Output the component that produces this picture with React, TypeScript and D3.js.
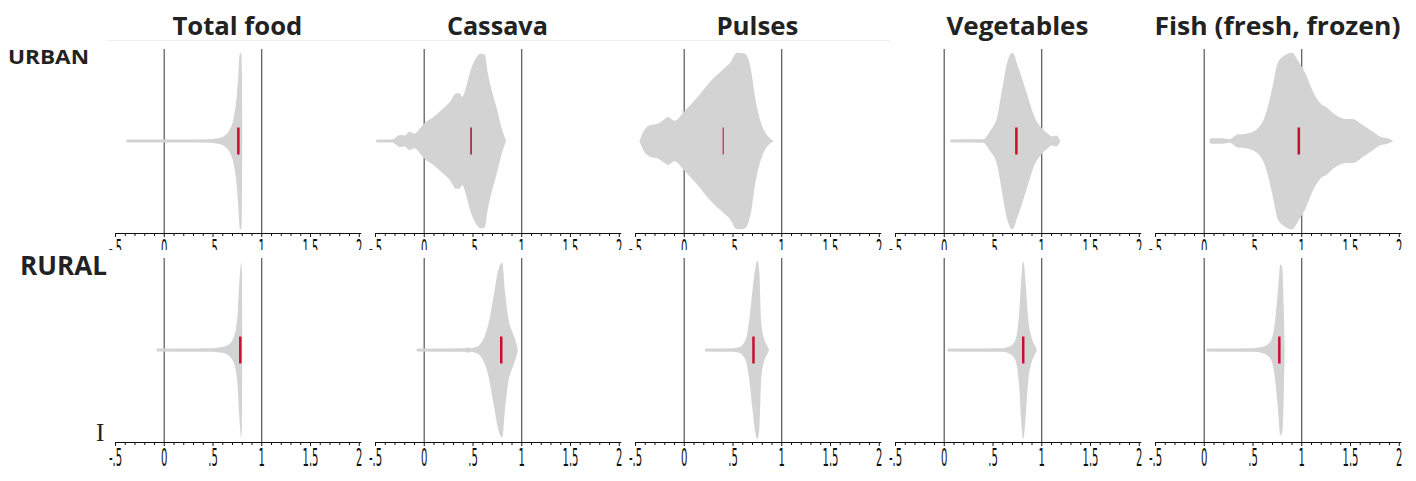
import React from "react";
import * as d3 from "d3";

type Pt = [number, number]; // [value, relative half-width]

const foods = ["Total food", "Cassava", "Pulses", "Vegetables", "Fish (fresh, frozen)"];
const titleWidths = [130, 101, 82, 142, 246];
const areas = ["URBAN", "RURAL"];
const tickLabels = ["-.5", "0", ".5", "1", "1.5", "2"];
const tickValues = [-0.5, 0, 0.5, 1, 1.5, 2];

// density outlines
const urbanTotal: Pt[] = [[-0.39, 0], [-0.38, 0.016], [0.2, 0.016], [0.45, 0.02], [0.55, 0.03], [0.62, 0.06], [0.67, 0.12], [0.71, 0.24], [0.74, 0.45], [0.76, 0.72], [0.775, 0.95], [0.79, 0.96], [0.797, 0.7], [0.8, 0]];
const urbanCassava: Pt[] = [[-0.5, 0], [-0.48, 0.016], [-0.33, 0.016], [-0.29, 0.04], [-0.25, 0.065], [-0.2, 0.06], [-0.15, 0.1], [-0.1, 0.08], [-0.04, 0.14], [0, 0.19], [0.08, 0.25], [0.18, 0.34], [0.26, 0.42], [0.33, 0.52], [0.36, 0.52], [0.39, 0.48], [0.43, 0.59], [0.47, 0.75], [0.52, 0.88], [0.58, 0.95], [0.62, 0.94], [0.65, 0.75], [0.7, 0.52], [0.74, 0.37], [0.8, 0.12], [0.84, 0]];
const urbanPulses: Pt[] = [[-0.46, 0], [-0.42, 0.1], [-0.35, 0.17], [-0.27, 0.19], [-0.2, 0.24], [-0.17, 0.26], [-0.1, 0.22], [0, 0.32], [0.13, 0.47], [0.27, 0.65], [0.4, 0.78], [0.47, 0.85], [0.54, 0.96], [0.62, 0.95], [0.68, 0.8], [0.73, 0.45], [0.8, 0.16], [0.86, 0.05], [0.92, 0]];
const urbanVeg: Pt[] = [[0.06, 0], [0.07, 0.016], [0.4, 0.018], [0.44, 0.06], [0.47, 0.11], [0.54, 0.25], [0.59, 0.54], [0.64, 0.83], [0.7, 0.96], [0.75, 0.83], [0.84, 0.54], [0.93, 0.25], [1.0, 0.14], [1.05, 0.09], [1.11, 0.05], [1.15, 0.06], [1.19, 0]];
const urbanFish: Pt[] = [[0.05, 0], [0.07, 0.03], [0.19, 0.03], [0.26, 0.02], [0.34, 0.07], [0.43, 0.08], [0.53, 0.12], [0.63, 0.29], [0.7, 0.59], [0.75, 0.84], [0.8, 0.91], [0.9, 0.96], [0.97, 0.86], [1.04, 0.73], [1.11, 0.55], [1.2, 0.4], [1.25, 0.37], [1.35, 0.28], [1.46, 0.24], [1.52, 0.24], [1.63, 0.17], [1.73, 0.1], [1.8, 0.05], [1.88, 0.03], [1.94, 0]];

const ruralTotal: Pt[] = [[-0.08, 0], [-0.07, 0.016], [0.5, 0.02], [0.55, 0.025], [0.64, 0.045], [0.71, 0.13], [0.75, 0.36], [0.77, 0.73], [0.79, 0.95], [0.797, 0.8], [0.8, 0]];
const ruralCassava: Pt[] = [[-0.08, 0], [-0.07, 0.016], [0.42, 0.02], [0.45, 0.03], [0.48, 0.02], [0.52, 0.03], [0.54, 0.035], [0.57, 0.06], [0.62, 0.15], [0.66, 0.29], [0.71, 0.58], [0.76, 0.87], [0.8, 0.95], [0.83, 0.62], [0.86, 0.36], [0.91, 0.18], [0.95, 0.05], [0.96, 0]];
const ruralPulses: Pt[] = [[0.21, 0], [0.22, 0.016], [0.5, 0.02], [0.56, 0.03], [0.6, 0.06], [0.64, 0.15], [0.67, 0.35], [0.7, 0.65], [0.73, 0.9], [0.75, 0.97], [0.77, 0.85], [0.79, 0.3], [0.82, 0.12], [0.85, 0.05], [0.87, 0]];
const ruralVeg: Pt[] = [[0.03, 0], [0.04, 0.016], [0.6, 0.02], [0.66, 0.035], [0.7, 0.06], [0.74, 0.15], [0.77, 0.42], [0.79, 0.78], [0.81, 0.97], [0.83, 0.8], [0.86, 0.35], [0.9, 0.12], [0.93, 0.05], [0.95, 0]];
const ruralFish: Pt[] = [[0.02, 0], [0.03, 0.016], [0.5, 0.02], [0.6, 0.035], [0.66, 0.07], [0.7, 0.15], [0.73, 0.35], [0.76, 0.7], [0.78, 0.93], [0.8, 0.9], [0.815, 0.5], [0.825, 0]];

const urbanShapes = [urbanTotal, urbanCassava, urbanPulses, urbanVeg, urbanFish];
const ruralShapes = [ruralTotal, ruralCassava, ruralPulses, ruralVeg, ruralFish];
const urbanMeans = [0.76, 0.48, 0.4, 0.74, 0.97];
const ruralMeans = [0.78, 0.79, 0.71, 0.81, 0.77];

const shapes = [urbanShapes, ruralShapes];
const means = [urbanMeans, ruralMeans];
const meanStyle = [
  [["#c8102e", 2.5], ["#8b1a2b", 1.5], ["#c04a6a", 1.5], ["#c8102e", 2.5], ["#c8102e", 2.5]],
  [["#c8102e", 2.5], ["#c8102e", 2.5], ["#c8102e", 2.5], ["#c8102e", 2.5], ["#c8102e", 2.5]],
];

const W = 1416, H = 481;
const panelW = 243.75;
const plotH = 184;
const ticks = d3.range(-5, 21).map((d) => d / 10);

export default function App() {
  // panel placement
  const colLeft = d3.scaleLinear().domain([0, 1]).range([115.5, 375.5]);
  const rowTop = d3.scaleLinear().domain([0, 1]).range([49, 258]);
  const hw = d3.scaleLinear().domain([0, 1]).range([0, 92]);

  return (
    <svg width={W} height={H} style={{ position: "absolute", left: 0, top: 0 }}
      fontFamily="'Open Sans', sans-serif">
      <defs>
        <clipPath id="topLabels">
          <rect x={0} y={0} width={W} height={250} />
        </clipPath>
      </defs>
      <rect width={W} height={H} fill="#fff" />
      <line x1={107} x2={890} y1={40.5} y2={40.5} stroke="#f0f0f0" />
      {foods.map((f, i) => (
        <text key={f} x={colLeft(i) + panelW / 2} y={35} textAnchor="middle" fontWeight="bold"
          fontSize={25} fill="#222" textLength={titleWidths[i]} lengthAdjust="spacingAndGlyphs">{f}</text>
      ))}
      <text x={8} y={64} fontWeight="bold" fontSize={19} fill="#222" textLength={81} lengthAdjust="spacingAndGlyphs">{areas[0]}</text>
      <text x={20} y={275} fontWeight="bold" fontSize={27} fill="#222" textLength={87} lengthAdjust="spacingAndGlyphs">{areas[1]}</text>
      <text x={96} y={441} fontFamily="'Liberation Serif', serif" fontSize={25} fill="#222">I</text>

      {areas.map((a, r) => {
        const top = rowTop(r);
        const axisY = top + plotH;
        const cy = top + plotH / 2;
        return foods.map((f, i) => {
          const left = colLeft(i);
          const x = d3.scaleLinear().domain([-0.5, 2]).range([left, left + panelW]);
          const area = d3.area<Pt>()
            .x((d) => x(d[0]))
            .y0((d) => cy - hw(d[1]))
            .y1((d) => cy + hw(d[1]))
            .curve(d3.curveMonotoneX);
          const m = means[r][i];
          const [mc, mw] = meanStyle[r][i] as [string, number];
          return (
            <g key={a + f}>
              {[0, 1].map((v) => (
                <line key={v} x1={x(v)} x2={x(v)} y1={top} y2={axisY} stroke={v === 0 ? "#777" : "#333"}
                  strokeWidth={v === 0 ? 1.5 : 1} />
              ))}
              <path d={area(shapes[r][i]) ?? ""} fill="#d3d3d3" />
              <line x1={x(m)} x2={x(m)} y1={cy - 13.5} y2={cy + 13.5} stroke={mc} strokeWidth={mw} />
              <line x1={x(-0.5)} x2={x(2) + 2} y1={axisY + 0.5} y2={axisY + 0.5} stroke="#111" />
              {ticks.map((t) => (
                <line key={t} x1={x(t)} x2={x(t)} y1={axisY} y2={axisY + (Math.abs(t * 2 - Math.round(t * 2)) < 1e-6 ? 4 : 3)}
                  stroke="#111" />
              ))}
              <g clipPath={r === 0 ? "url(#topLabels)" : undefined}>
                {tickValues.map((t, k) => (
                  <text key={t} transform={`translate(${x(t)},${axisY + 24}) scale(0.42,1)`} textAnchor="middle"
                    fontFamily="'DejaVu Sans', sans-serif" fontSize={24} fill="#111">{tickLabels[k]}</text>
                ))}
              </g>
            </g>
          );
        });
      })}
    </svg>
  );
}
